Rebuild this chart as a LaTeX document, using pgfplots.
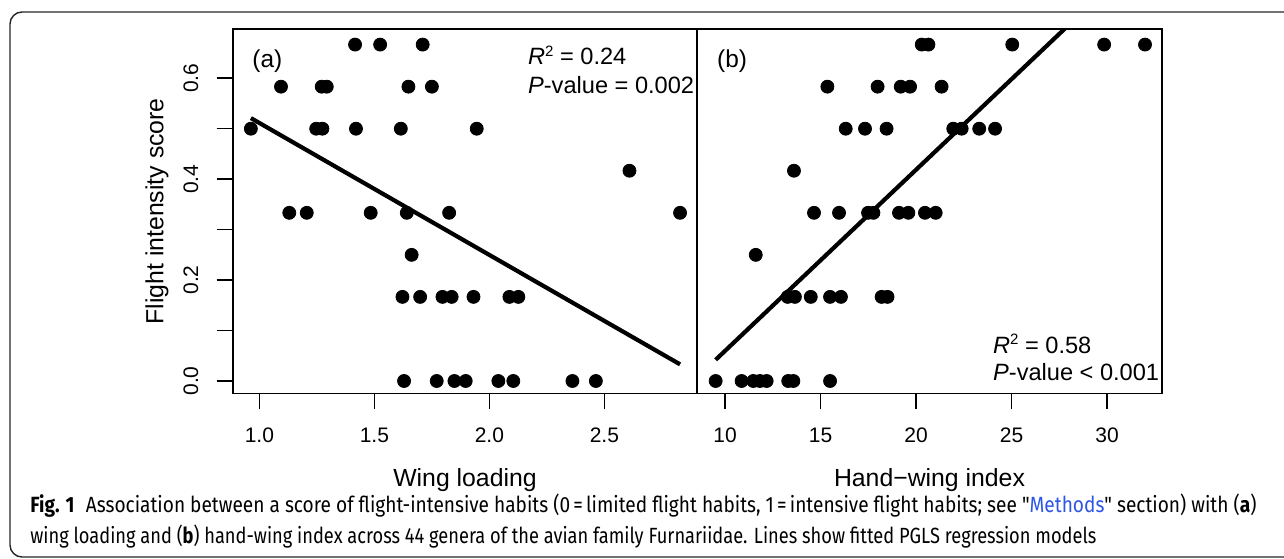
\documentclass[border=0pt]{standalone}
\usepackage{pgfplots}
\pgfplotsset{compat=1.18}
\usepackage{graphicx}
\usepackage{fontspec}
\setmainfont{Liberation Sans}
\newfontfamily\capfont{Fira Sans}
\definecolor{linkblue}{RGB}{45,85,230}
\newcommand{\sq}{\raisebox{0.36em}{\fontsize{7.5}{8}\selectfont 2}}

% points: wing loading vs score
\pgfplotstableread{
x y
1.416 0.6667
1.525 0.6667
1.710 0.6667
1.094 0.5833
1.271 0.5833
1.293 0.5833
1.648 0.5833
1.750 0.5833
0.963 0.5
1.247 0.5
1.274 0.5
1.420 0.5
1.615 0.5
1.945 0.5
2.609 0.4167
1.130 0.3333
1.206 0.3333
1.484 0.3333
1.641 0.3333
1.825 0.3333
2.829 0.3333
1.662 0.25
1.622 0.1667
1.699 0.1667
1.796 0.1667
1.836 0.1667
1.931 0.1667
2.087 0.1667
2.126 0.1667
1.629 0
1.771 0
1.848 0
1.897 0
2.039 0
2.104 0
2.361 0
2.463 0
}\wingload

% hand-wing index vs score
\pgfplotstableread{
x y
20.30 0.6667
20.65 0.6667
25.04 0.6667
29.85 0.6667
31.99 0.6667
15.36 0.5833
17.99 0.5833
19.20 0.5833
19.69 0.5833
21.34 0.5833
16.32 0.5
17.33 0.5
18.46 0.5
21.95 0.5
22.39 0.5
23.31 0.5
24.14 0.5
13.61 0.4167
14.66 0.3333
15.97 0.3333
17.49 0.3333
17.77 0.3333
19.11 0.3333
19.60 0.3333
20.47 0.3333
21.03 0.3333
11.61 0.25
13.28 0.1667
13.66 0.1667
14.49 0.1667
15.50 0.1667
16.07 0.1667
18.20 0.1667
18.51 0.1667
9.51 0
10.87 0
11.48 0
11.83 0
12.18 0
13.31 0
13.58 0
15.50 0
}\handwing

\pgfplotsset{
  panel/.style={
    scale only axis, height=182pt, anchor=south west,
    ymin=-0.0244, ymax=0.697,
    tick align=outside, major tick length=8pt,
    xtick pos=bottom, ytick pos=left,
    axis line style={line width=0.8pt},
    every tick/.style={line width=0.8pt, black},
    tick label style={font=\fontsize{10.5}{12}\selectfont},
    label style={font=\fontsize{12.4}{15}\selectfont},
    xticklabel style={anchor=base, yshift=-16.6pt},
    xlabel style={at={(axis description cs:0.5,0)}, anchor=base, yshift=-46.5pt},
  },
  dots/.style={only marks, mark=*, mark size=3.25pt, black},
  fit/.style={line width=2.1pt, black},
}
\tikzset{note/.style={anchor=base west, inner sep=0pt, font=\fontsize{11.8}{14}\selectfont}}

\begin{document}
\begin{tikzpicture}[x=1pt,y=1pt]
\useasboundingbox (0,0) rectangle (642,279);
\draw[line width=0.7pt, rounded corners=6pt, black!85] (5,0.5) rectangle (720,273);

\begin{axis}[panel, at={(116.35pt,82.35pt)}, width=232.3pt,
  xmin=0.884, xmax=2.904,
  xtick={1,1.5,2,2.5}, xticklabels={1.0,1.5,2.0,2.5},
  ytick={0,0.1,0.2,0.3,0.4,0.5,0.6}, yticklabels={0.0,,0.2,,0.4,,0.6},
  yticklabel style={rotate=90, anchor=base},
  yticklabel shift=9.35pt,
  xlabel={Wing loading},
  ylabel={Flight intensity score},
  ylabel style={at={(axis description cs:-0.1494,0.5)}, anchor=base},
]
\addplot[dots] table {\wingload};
\addplot[fit] coordinates {(0.963,0.521) (2.829,0.033)};
\node[note, font=\fontsize{12.2}{14}\selectfont] at (rel axis cs:0.0415,0.8964) {(a)};
\node[note] at (rel axis cs:0.635,0.902) {\textit{R}\sq\ = 0.24};
\node[note] at (rel axis cs:0.635,0.824) {\textit{P}-value = 0.002};
\end{axis}

\begin{axis}[panel, at={(348.5pt,82.35pt)}, width=232.5pt,
  xmin=8.534, xmax=32.88,
  xtick={10,15,20,25,30}, xticklabels={10,15,20,25,30},
  ytick=\empty,
  xlabel={Hand−wing index},
]
\addplot[dots] table {\handwing};
\addplot[fit] coordinates {(9.51,0.042) (31.99,0.849)};
\node[note, font=\fontsize{12.2}{14}\selectfont] at (rel axis cs:0.0424,0.8964) {(b)};
\node[note] at (rel axis cs:0.636,0.110) {\textit{R}\sq\ = 0.58};
\node[note] at (rel axis cs:0.636,0.034) {\textit{P}-value < 0.001};
\end{axis}

\node[anchor=base west, inner sep=0pt, font=\capfont\fontsize{11}{13}\selectfont] at (15,23)
  {\resizebox{613pt}{\height}{\textbf{Fig. 1}\hspace{0.6em}Association between a score of flight-intensive habits (0\,=\,limited flight habits, 1\,=\,intensive flight habits; see "\textcolor{linkblue}{Methods}" section) with (\textbf{a})}};
\node[anchor=base west, inner sep=0pt, font=\capfont\fontsize{11}{13}\selectfont] at (15,7.5)
  {\resizebox{533pt}{\height}{wing loading and (\textbf{b}) hand-wing index across 44 genera of the avian family Furnariidae. Lines show fitted PGLS regression models}};
\end{tikzpicture}
\end{document}
